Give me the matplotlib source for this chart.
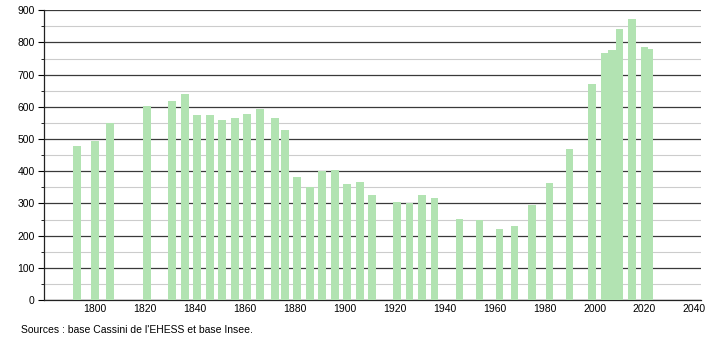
import matplotlib.pyplot as plt
from matplotlib.ticker import MultipleLocator

plt.rcParams["font.family"] = ["Liberation Sans", "DejaVu Sans"]

BAR_COLOR = "#b2e3b2"
MAJOR_GRID = "#3a3a3a"
MINOR_GRID = "#cccccc"

years = [1793, 1800, 1806, 1821, 1831, 1836, 1841, 1846, 1851, 1856,
         1861, 1866, 1872, 1876, 1881, 1886, 1891, 1896, 1901, 1906,
         1911, 1921, 1926, 1931, 1936, 1946, 1954, 1962, 1968, 1975,
         1982, 1990, 1999, 2004, 2007, 2010, 2015, 2020, 2022]
population = [479, 494, 549, 603, 618, 640, 575, 575, 559, 564,
              578, 592, 564, 528, 381, 352, 401, 404, 360, 367,
              326, 304, 302, 327, 317, 252, 249, 221, 230, 295,
              362, 468, 672, 766, 778, 843, 874, 786, 781]
x_ticks = list(range(1800, 2041, 20))
source_text = "Sources : base Cassini de l'EHESS et base Insee."

fig = plt.figure(figsize=(7.1, 3.4), dpi=100)
ax = fig.add_axes([0.0624, 0.1176, 0.9245, 0.8521])

ax.bar(years, population, width=3.1, color=BAR_COLOR, zorder=3)

ax.set_xlim(1779.8, 2042.5)
ax.set_ylim(0, 900)
ax.set_xticks(x_ticks)
ax.yaxis.set_major_locator(MultipleLocator(100))
ax.yaxis.set_minor_locator(MultipleLocator(50))

ax.grid(True, axis="y", which="major", color=MAJOR_GRID, linewidth=0.9, zorder=1)
ax.grid(True, axis="y", which="minor", color=MINOR_GRID, linewidth=0.8, zorder=1)

for side in ("top", "right"):
    ax.spines[side].set_visible(False)
for side in ("left", "bottom"):
    ax.spines[side].set_color("#222222")
    ax.spines[side].set_linewidth(0.9)

ax.tick_params(axis="x", length=0, labelsize=7.5, pad=3)
ax.tick_params(axis="y", which="major", length=4, width=0.8, labelsize=7.5, pad=3)
ax.tick_params(axis="y", which="minor", length=2, width=0.6)

fig.text(0.029, 0.03, source_text, fontsize=7.5, ha="left", va="center")

fig.savefig("out.png", dpi=100)
